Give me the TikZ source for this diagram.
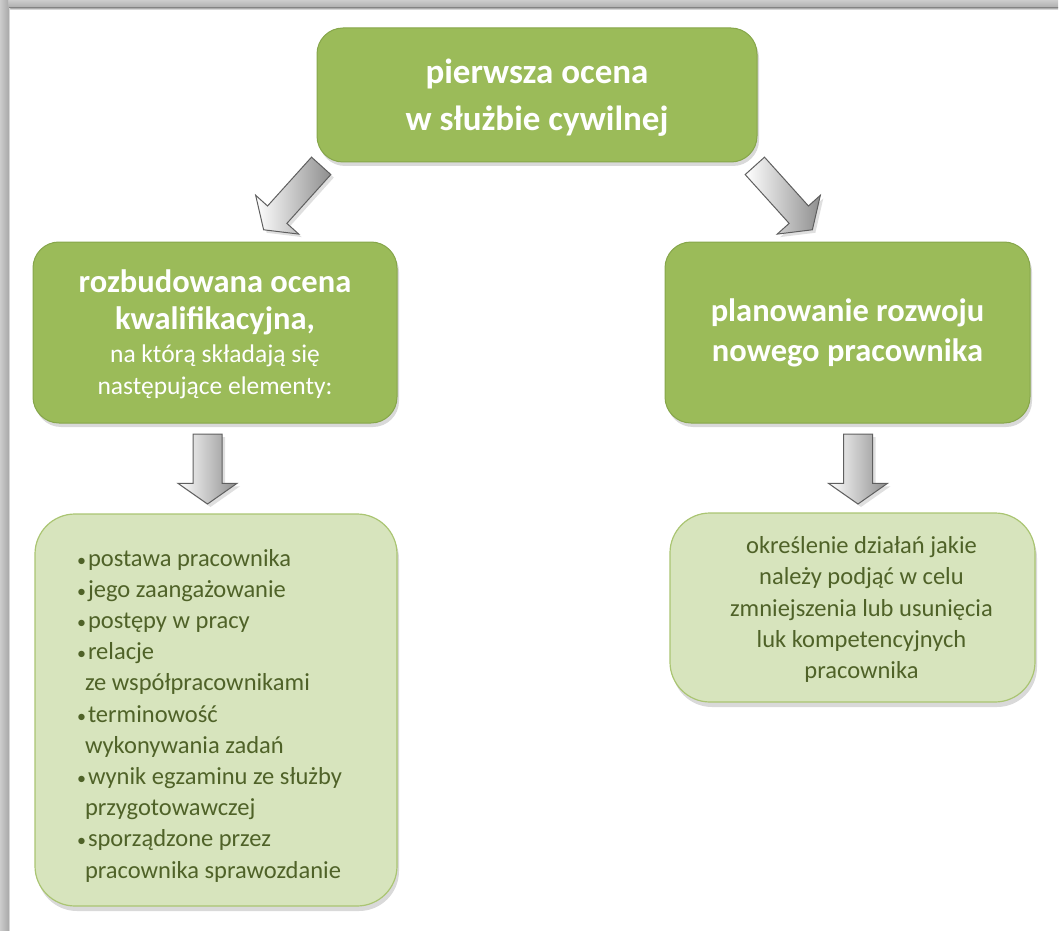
\documentclass[tikz,border=0pt]{standalone}
\usepackage{fontspec}
\setmainfont{Carlito}
\usetikzlibrary{calc,shadows,shapes.arrows}

\definecolor{oliveA}{HTML}{9BBB59}
\definecolor{oliveB}{HTML}{86A64A}
\definecolor{oliveL}{HTML}{D7E4BD}
\definecolor{oliveT}{HTML}{4F6228}
\definecolor{arrowG}{HTML}{8E8E8E}
\definecolor{arrowE}{HTML}{5F5F5F}

\newcommand{\pkt}{\makebox[11pt][l]{\fontsize{18}{18}\selectfont •}}
\newcommand{\dalej}{\hspace*{8pt}}

\begin{document}
\begin{tikzpicture}[x=1pt,y=-1pt]
 \tikzstyle{darkbox} = [draw=oliveB,line width=1pt,fill=oliveA,rounded corners=26pt,text=white,align=center,inner sep=0pt,drop shadow={opacity=0.3,shadow xshift=2pt,shadow yshift=-4pt}];
 \tikzstyle{lightbox} = [draw=oliveA!85!white,line width=1.2pt,fill=oliveL,rounded corners=40pt,text=oliveT,inner sep=0pt,drop shadow={opacity=0.3,shadow xshift=2pt,shadow yshift=-5pt}];
 \tikzstyle{bigarrow} = [single arrow,draw=arrowE,line width=1pt,left color=white,right color=arrowG,inner xsep=0pt,inner ysep=14pt,minimum height=70pt,single arrow head extend=15pt,single arrow tip angle=110,drop shadow={opacity=0.25,shadow xshift=3pt,shadow yshift=-3pt}];
 \tikzstyle{slant} = [inner ysep=12.5pt,single arrow head extend=16pt,minimum height=86pt];
 \tikzstyle{listfont} = [font=\fontsize{24.5}{31.2}\selectfont];

 \useasboundingbox (0,0) rectangle (1061,931);
 % frame
 \fill[top color=gray!40,bottom color=gray!65] (0,0) rectangle (1058,8);
 \fill[top color=gray!65,bottom color=white] (9,8) rectangle (1058,10);
 \fill[left color=gray!40,right color=gray!65] (0,0) rectangle (8,931);
 \fill[left color=gray!65,right color=white] (8,9) rectangle (10,931);

 % boxes
 \node[darkbox,name=top,minimum width=440pt,minimum height=134pt,text depth=0pt,font=\bfseries\fontsize{35}{47}\selectfont] at (537,95) {pierwsza ocena\\w służbie cywilnej};
 \node[darkbox,name=ocena,minimum width=364pt,minimum height=181pt,text depth=-3pt,font=\fontsize{25.5}{32}\selectfont] at (215,332.5)
  {\bfseries\fontsize{32.5}{32}\selectfont rozbudowana ocena\\[5pt]
   \bfseries\fontsize{32.5}{32}\selectfont kwalifikacyjna,\\[1pt]
   na którą składają się\\
   następujące elementy:};
 \node[darkbox,name=rozwoj,minimum width=365pt,minimum height=181pt,font=\bfseries\fontsize{32.5}{40}\selectfont] at (847.5,332.5) {planowanie rozwoju\\nowego pracownika};

 \node[lightbox,listfont,name=elementy,minimum width=362pt,minimum height=392pt,text width=278pt,inner xsep=42pt,text height=28pt,align=flush left] at (216,710)
  {\pkt postawa pracownika\\
   \pkt jego zaangażowanie\\
   \pkt postępy w pracy\\
   \pkt relacje\\
   \dalej ze współpracownikami\\
   \pkt terminowość\\
   \dalej wykonywania zadań\\
   \pkt wynik egzaminu ze służby\\
   \dalej przygotowawczej\\
   \pkt sporządzone przez\\
   \dalej pracownika sprawozdanie};
 \node[lightbox,name=plan,minimum width=365pt,minimum height=189pt] at (852.5,607.5) {};
 \node[listfont,text=oliveT,align=center,inner sep=0pt,name=plantxt] at ($(plan.center)+(9,2)$)
  {określenie działań jakie\\należy podjąć w celu\\zmniejszenia lub usunięcia\\luk kompetencyjnych\\pracownika};

 % arrows
 \node[bigarrow,slant,name=a1,rotate=228,anchor=tail] at ($(top.south west)+(5,3)$) {};
 \node[bigarrow,slant,name=a2,rotate=312,anchor=tail] at ($(top.south east)+(-3,3)$) {};
 \node[bigarrow,name=a3,rotate=270,anchor=tail] at ($(ocena.south)+(-7.5,10)$) {};
 \node[bigarrow,name=a4,rotate=270,anchor=tail] at ($(rozwoj.south)+(10.5,10)$) {};
\end{tikzpicture}
\end{document}
